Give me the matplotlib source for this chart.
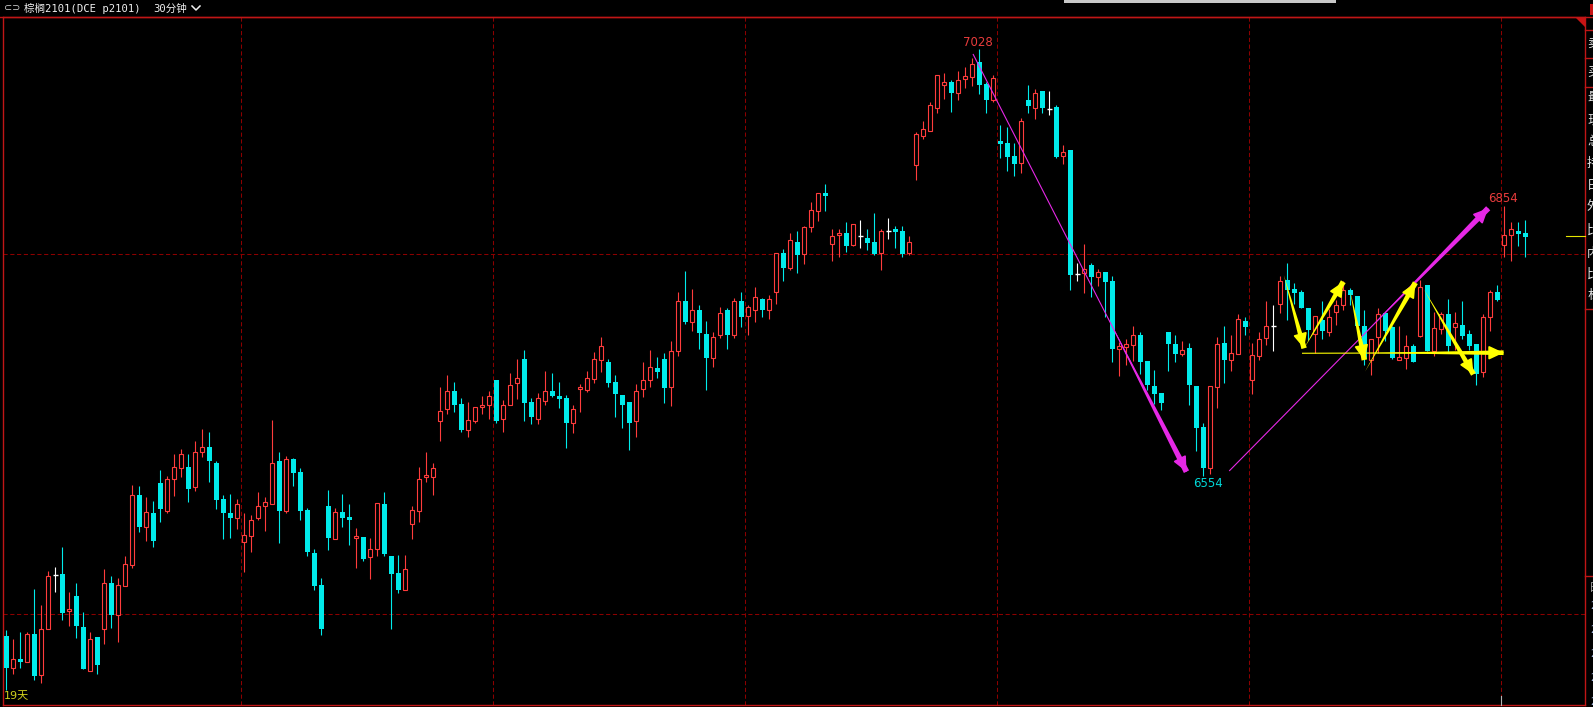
import matplotlib
matplotlib.use('Agg')
import matplotlib.pyplot as plt
from matplotlib.patches import Rectangle, Polygon
from matplotlib.lines import Line2D

# p2101 30-minute bars (price units)
opens = [
    6376, 6340, 6350, 6347, 6378, 6332, 6384, 6444, 6445, 6404,
    6420, 6386, 6337, 6375, 6384, 6435, 6399, 6431, 6455, 6532,
    6497, 6512, 6546, 6515, 6550, 6563, 6564, 6541, 6580, 6586,
    6568, 6528, 6512, 6507, 6480, 6487, 6507, 6520, 6522, 6570,
    6515, 6573, 6558, 6516, 6468, 6433, 6520, 6484, 6514, 6508,
    6485, 6486, 6464, 6472, 6523, 6465, 6446, 6427, 6500, 6515,
    6553, 6553, 6615, 6628, 6648, 6634, 6605, 6615, 6630, 6633,
    6660, 6617, 6632, 6657, 6684, 6636, 6617, 6637, 6648, 6643,
    6640, 6613, 6650, 6649, 6661, 6683, 6680, 6658, 6644, 6636,
    6615, 6650, 6660, 6674, 6684, 6652, 6693, 6748, 6725, 6738,
    6711, 6685, 6710, 6738, 6710, 6748, 6731, 6738, 6750, 6738,
    6758, 6801, 6785, 6814, 6800, 6830, 6848, 6868, 6811, 6821,
    6824, 6810, 6820, 6818, 6814, 6801, 6826, 6828, 6826, 6801,
    6899, 6931, 6937, 6963, 6988, 6991, 6979, 6995, 6997, 7014,
    6989, 6971, 6926, 6924, 6909, 6901, 6971, 6963, 6981, 6961,
    6964, 6909, 6916, 6778, 6779, 6788, 6775, 6780, 6770, 6695,
    6697, 6699, 6710, 6681, 6654, 6646, 6714, 6700, 6689, 6696,
    6654, 6608, 6563, 6653, 6701, 6683, 6689, 6726, 6660, 6687,
    6707, 6720, 6745, 6771, 6761, 6758, 6740, 6711, 6727, 6714,
    6736, 6744, 6760, 6754, 6720, 6683, 6708, 6735, 6719, 6683,
    6685, 6698, 6709, 6766, 6693, 6717, 6734, 6719, 6721, 6711,
    6700, 6669, 6730, 6758, 6810, 6821, 6826, 6824,
]
highs = [
    6383, 6372, 6380, 6380, 6428, 6410, 6448, 6452, 6475, 6425,
    6435, 6402, 6380, 6375, 6450, 6442, 6440, 6465, 6544, 6542,
    6530, 6526, 6560, 6554, 6578, 6584, 6578, 6593, 6606, 6603,
    6570, 6532, 6534, 6528, 6512, 6510, 6536, 6530, 6616, 6580,
    6576, 6574, 6563, 6518, 6473, 6440, 6538, 6518, 6534, 6523,
    6496, 6486, 6485, 6524, 6536, 6465, 6466, 6466, 6520, 6564,
    6580, 6568, 6653, 6666, 6658, 6640, 6636, 6630, 6643, 6648,
    6660, 6638, 6668, 6684, 6694, 6640, 6646, 6670, 6668, 6658,
    6644, 6633, 6656, 6670, 6691, 6708, 6684, 6666, 6644, 6636,
    6656, 6680, 6694, 6686, 6690, 6704, 6758, 6781, 6761, 6744,
    6726, 6714, 6741, 6740, 6751, 6758, 6744, 6764, 6751, 6755,
    6801, 6806, 6824, 6826, 6831, 6858, 6868, 6878, 6828, 6828,
    6836, 6834, 6838, 6828, 6846, 6828, 6840, 6831, 6831, 6820,
    6936, 6948, 6969, 6999, 7001, 6994, 7004, 7008, 7018, 7028,
    6991, 6999, 6944, 6941, 6924, 6951, 6988, 6984, 6981, 6981,
    6966, 6921, 6916, 6790, 6811, 6790, 6784, 6780, 6776, 6703,
    6706, 6720, 6714, 6681, 6671, 6646, 6714, 6710, 6704, 6701,
    6654, 6613, 6654, 6708, 6720, 6710, 6734, 6730, 6701, 6714,
    6748, 6744, 6776, 6790, 6768, 6760, 6740, 6731, 6748, 6739,
    6749, 6770, 6763, 6754, 6738, 6706, 6740, 6735, 6720, 6720,
    6710, 6700, 6771, 6766, 6736, 6736, 6750, 6736, 6748, 6716,
    6700, 6734, 6760, 6766, 6854, 6836, 6836, 6838,
]
lows = [
    6316, 6334, 6340, 6347, 6327, 6324, 6384, 6425, 6394, 6387,
    6374, 6339, 6337, 6334, 6367, 6385, 6369, 6431, 6451, 6491,
    6481, 6475, 6502, 6512, 6531, 6552, 6525, 6537, 6575, 6547,
    6517, 6484, 6485, 6495, 6447, 6469, 6505, 6492, 6522, 6479,
    6512, 6543, 6505, 6465, 6427, 6377, 6471, 6484, 6497, 6477,
    6451, 6459, 6439, 6465, 6465, 6384, 6424, 6427, 6484, 6503,
    6547, 6533, 6592, 6623, 6625, 6602, 6597, 6612, 6623, 6617,
    6612, 6603, 6632, 6639, 6615, 6611, 6611, 6633, 6641, 6629,
    6585, 6601, 6625, 6647, 6657, 6669, 6653, 6619, 6607, 6583,
    6597, 6641, 6653, 6663, 6635, 6631, 6687, 6723, 6715, 6695,
    6649, 6675, 6707, 6695, 6707, 6719, 6710, 6725, 6730, 6728,
    6745, 6770, 6783, 6779, 6789, 6825, 6837, 6848, 6793, 6797,
    6803, 6809, 6807, 6805, 6799, 6783, 6817, 6807, 6797, 6799,
    6883, 6928, 6937, 6957, 6973, 6958, 6971, 6985, 6987, 6978,
    6957, 6969, 6907, 6893, 6887, 6890, 6957, 6950, 6957, 6955,
    6907, 6900, 6760, 6770, 6757, 6753, 6765, 6730, 6680, 6665,
    6677, 6681, 6667, 6649, 6634, 6627, 6670, 6680, 6687, 6633,
    6581, 6554, 6556, 6629, 6657, 6670, 6689, 6710, 6645, 6683,
    6699, 6693, 6735, 6727, 6745, 6740, 6705, 6690, 6706, 6709,
    6721, 6738, 6744, 6719, 6677, 6666, 6690, 6704, 6684, 6683,
    6673, 6680, 6708, 6693, 6687, 6711, 6690, 6694, 6706, 6694,
    6655, 6664, 6715, 6748, 6797, 6793, 6809, 6797,
]
closes = [
    6340, 6350, 6347, 6378, 6331, 6384, 6442, 6444, 6401, 6406,
    6387, 6339, 6372, 6344, 6435, 6399, 6432, 6456, 6532, 6497,
    6514, 6481, 6517, 6550, 6564, 6578, 6539, 6580, 6586, 6570,
    6527, 6512, 6507, 6523, 6488, 6505, 6520, 6525, 6568, 6515,
    6573, 6557, 6515, 6469, 6431, 6384, 6485, 6514, 6507, 6505,
    6487, 6461, 6473, 6524, 6467, 6445, 6427, 6450, 6516, 6550,
    6555, 6562, 6626, 6648, 6633, 6605, 6616, 6630, 6632, 6643,
    6615, 6632, 6655, 6663, 6635, 6619, 6640, 6648, 6643, 6639,
    6613, 6628, 6653, 6663, 6684, 6698, 6657, 6645, 6633, 6613,
    6648, 6660, 6675, 6669, 6651, 6693, 6748, 6725, 6738, 6713,
    6685, 6708, 6735, 6710, 6748, 6730, 6741, 6752, 6738, 6750,
    6801, 6785, 6816, 6799, 6830, 6849, 6868, 6865, 6820, 6824,
    6809, 6834, 6820, 6813, 6800, 6826, 6826, 6825, 6800, 6814,
    6934, 6939, 6966, 6999, 6991, 6979, 6994, 6998, 7011, 6988,
    6971, 6996, 6923, 6908, 6900, 6948, 6965, 6979, 6963, 6961,
    6908, 6914, 6777, 6778, 6784, 6775, 6780, 6769, 6695, 6698,
    6700, 6710, 6680, 6655, 6645, 6635, 6700, 6689, 6694, 6655,
    6607, 6563, 6654, 6700, 6683, 6690, 6728, 6719, 6688, 6706,
    6720, 6720, 6770, 6760, 6757, 6740, 6716, 6731, 6715, 6730,
    6744, 6760, 6755, 6720, 6684, 6706, 6734, 6715, 6685, 6686,
    6698, 6680, 6764, 6693, 6718, 6734, 6698, 6724, 6709, 6698,
    6667, 6730, 6758, 6749, 6821, 6828, 6823, 6819,
]

# session separators (bar positions) and price grid
day_breaks = [33.57, 69.57, 105.57, 141.57, 177.57, 213.57]
price_grid = [6800, 6400]

UP = '#ff3c3c'
DOWN = '#00ebeb'
DOJI = '#ffffff'
GRID = '#8c0000'
BORDER = '#c01616'
MAG = '#e628e6'
YEL = '#ffff00'

W, H = 1593, 707
fig = plt.figure(figsize=(W / 100, H / 100), dpi=100, facecolor='black')

def px(x, y):
    # figure pixel (from top-left) -> figure fraction
    return x / W, 1 - y / H

ax = fig.add_axes([3 / W, 2 / H, 1582 / W, 688 / H])
ax.set_facecolor('black')
ax.set_xlim(-0.47, 225.53)
ax.set_ylim(6299.2, 7063.6)
ax.set_xticks([])
ax.set_yticks([])
for s in ax.spines.values():
    s.set_color(BORDER)
    s.set_linewidth(1.0)

for p in price_grid:
    ax.axhline(p, color=GRID, lw=0.75, ls=(0, (4, 2.5)), zorder=0)
for b in day_breaks:
    ax.axvline(b, color=GRID, lw=0.75, ls=(0, (4, 2.5)), zorder=0)

# candles
for i, (o, h, l, c) in enumerate(zip(opens, highs, lows, closes)):
    if c > o:
        col = UP
    elif c < o:
        col = DOWN
    else:
        col = DOJI
    ax.vlines(i, l, h, color=col, lw=0.8, zorder=2)
    if col == DOJI:
        ax.hlines(o, i - 0.33, i + 0.33, color=col, lw=1.0, zorder=3)
    elif col == UP:
        ax.add_patch(Rectangle((i - 0.27, o), 0.54, max(c - o, 1.2),
                               fc='black', ec=UP, lw=0.8, zorder=3))
    else:
        ax.add_patch(Rectangle((i - 0.35, c), 0.70, max(o - c, 1.5),
                               fc=DOWN, ec='none', lw=0, zorder=3))


def arrow(p0, p1, color, thick_from=None, tail_w=0.4, thin_lw=0.8,
          head_l=0.9, head_w=0.42):
    # thin stroke over the whole length, widening stroke near the tip
    if thick_from is not None:
        ax.plot([p0[0], p1[0]], [p0[1], p1[1]], color=color, lw=thin_lw,
                solid_capstyle='butt', zorder=5)
        start = thick_from
    else:
        start = p0
    ax.annotate('', xy=start, xytext=p1, zorder=6,
                arrowprops=dict(arrowstyle=f'wedge,tail_width={tail_w},shrink_factor=0.5',
                                fc=color, ec='none', shrinkA=0, shrinkB=0,
                                mutation_scale=10))
    back = (start[0] + 0.85 * (p1[0] - start[0]), start[1] + 0.85 * (p1[1] - start[1]))
    ax.annotate('', xy=p1, xytext=back, zorder=6,
                arrowprops=dict(arrowstyle=f'-|>,head_length={head_l},head_width={head_w}',
                                color=color, lw=1.2, shrinkA=0, shrinkB=0,
                                mutation_scale=10))


# magenta trend arrows
arrow((138.1, 7022.5), (168.6, 6558.4), MAG, thick_from=(157.0, 6735.0), tail_w=0.42)
arrow((174.7, 6559.2), (211.7, 6851.1), MAG, thick_from=(193.5, 6707.6), tail_w=0.42)

# yellow swing arrows
arrow((182.5, 6777.0), (185.4, 6695.5), YEL)
arrow((185.4, 6695.5), (191.0, 6769.5), YEL)
arrow((192.0, 6758.4), (194.0, 6682.5), YEL)
arrow((194.1, 6669.5), (201.3, 6768.4), YEL)
arrow((202.5, 6761.1), (209.6, 6666.6), YEL)
arrow((185.1, 6690.0), (213.9, 6690.6), YEL, thick_from=(193.6, 6690.3), tail_w=0.34)

# extreme labels
ax.text(138.8, 7035.3, '7028', color='#e83c3c', fontsize=8.5, ha='center', va='center')
ax.text(171.7, 6544.8, '6554', color='#00d8d8', fontsize=8.5, ha='center', va='center')
ax.text(213.8, 6862.0, '6854', color='#e83c3c', fontsize=8.5, ha='center', va='center')

# last price marker in the margin
fig.add_artist(Line2D([1566 / W, 1585 / W], [1 - 236.5 / H] * 2, color='#e6e600', lw=0.8))

# header
fig.add_artist(Line2D([0, 1], [1 - 17.3 / H] * 2, color=BORDER, lw=1.0))
fig.text(*px(4, 8.5), '⊂⊃', color='#d0d0d0', fontsize=7, va='center', ha='left')
mono_cjk = ['DejaVu Sans Mono', 'Noto Sans CJK SC']
fig.text(*px(24, 8.5), '棕榈2101(DCE p2101)', color='#f0f0f0', fontsize=7.6,
         family=mono_cjk, va='center', ha='left')
fig.text(*px(153, 8.5), '30分钟', color='#f0f0f0', fontsize=7.6,
         family=mono_cjk, va='center', ha='left')
cx, cy = zip(px(192, 6), px(196, 10), px(200, 6))
fig.add_artist(Line2D(cx, cy, color='#f0f0f0', lw=1.1))
fig.add_artist(Rectangle(px(1064, 2.5), (1336 - 1064) / W, 2.5 / H, color='#c8c8c8', lw=0))

# corner marker
fig.add_artist(Polygon([px(1576, 17.5), px(1585, 17.5), px(1585, 27)], closed=True,
                       color='#c81414', lw=0))

# right-hand quote panel (cut off by the screenshot edge)
for yy in [30, 58, 87, 309, 576]:
    fig.add_artist(Line2D([1585 / W, 1], [1 - yy / H] * 2, color=BORDER, lw=1.0))
fig.add_artist(Rectangle(px(1590, 15), 3 / W, 11 / H, color='#c81414', lw=0))
panel = ['卖', '买', '最', '现', '总', '持', '日', '外', '比', '内', '比', '杠']
panel_y = [43, 72, 98, 120, 141, 163, 185, 206, 230, 253, 274, 295]
for t, yy in zip(panel, panel_y):
    fig.text(*px(1587, yy), t, color='#e6e6e6', fontsize=9, va='center', ha='left',
             family=['Noto Sans CJK SC', 'DejaVu Sans'])
fig.text(*px(1589, 588), '日', color='#a0a0a0', fontsize=8, va='center', ha='left',
         family=['Noto Sans CJK SC', 'DejaVu Sans'])
for yy in [606, 630, 654, 678, 702]:
    fig.text(*px(1590, yy), '2', color='#a0b4dc', fontsize=7, va='center', ha='left')

fig.add_artist(Line2D([1501 / W] * 2, [1 - 696 / H, 1 - 705 / H], color='#b4b4b4', lw=0.8))

fig.text(*px(4, 696.5), '19天', color='#d2d21e', fontsize=8, va='center', ha='left',
         family=['DejaVu Sans', 'Noto Sans CJK SC'])

fig.savefig('out.png', dpi=100, facecolor='black')
